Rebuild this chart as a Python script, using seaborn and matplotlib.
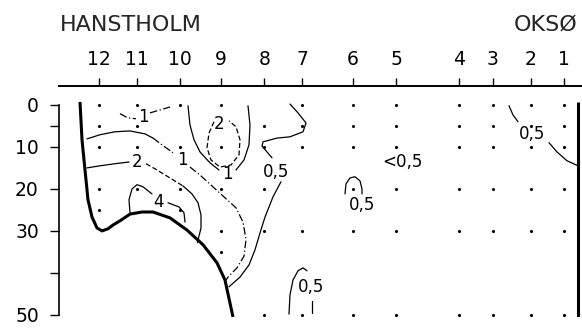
import matplotlib
matplotlib.use("Agg")
import matplotlib.pyplot as plt
import seaborn as sns
import pandas as pd

# stations along the section, distance in km from Hanstholm
stations = ["12", "11", "10", "9", "8", "7", "6", "5", "4", "3", "2", "1"]
station_km = [10.0, 19.5, 30.3, 40.5, 51.3, 60.8, 73.5, 84.3, 100.0, 108.5, 118.0, 126.3]
full_cast = [0, 5, 10, 20, 30, 50]
sample_depths = [
    [0, 5, 10, 20, 25],
    [0, 5, 10, 20],
    [0, 10, 20, 25],
    [0, 10, 20, 30, 35],
    [5, 10, 20, 30, 50],
    [0, 5, 10, 30, 50],
    full_cast, full_cast, full_cast, full_cast, full_cast, full_cast,
]

depth_ticks = [0, 5, 10, 20, 30, 40, 50]
depth_labels = ["0", "", "10", "20", "30", "", "50"]

# sea floor on the Hanstholm side and the coast at Oksø
bottom_km = [5.25, 5.75, 6.5, 7.25, 8.25, 9.5, 10.75, 12.25, 13.5, 15.25, 17.75, 20.75,
             23.5, 27.75, 32.0, 36.0, 39.5, 41.5, 43.5]
bottom_d = [-0.7, 8.3, 15.5, 22.6, 26.7, 29.3, 30.0, 29.5, 28.6, 27.6, 26.0, 25.5,
            25.5, 26.9, 29.8, 33.3, 37.6, 41.7, 50.5]
coast_km = [129.75, 129.75]
coast_d = [-0.7, 50.5]

# isolines (km, depth m)
iso1_top_a_km = [15.25, 17.25, 19.25]
iso1_top_a_d = [2.1, 3.1, 3.3]
iso1_top_b_km = [22.75, 25.25, 27.75]
iso1_top_b_d = [1.9, 1.2, 0.5]

iso1_left_km = [7.0, 10.25, 14.0, 17.75, 21.5, 23.5]
iso1_left_d = [8.1, 7.1, 6.4, 6.2, 6.9, 7.9]
iso1_mid_km = [23.5, 25.75, 28.5]
iso1_mid_d = [7.9, 9.5, 11.4]
iso1_low_km = [32.75, 35.25, 38.25, 41.25, 44.25, 46.0, 46.75, 46.25, 44.5, 42.25, 41.6]
iso1_low_d = [14.8, 16.7, 19.3, 21.9, 24.5, 27.9, 32.1, 36.0, 38.8, 41.0, 41.9]

iso1_u_a_km = [32.25, 32.75, 33.75, 35.25, 37.75, 40.0]
iso1_u_a_d = [0.2, 4.8, 8.3, 11.2, 13.8, 15.5]
iso1_u_b_km = [44.25, 46.25, 47.5, 47.75, 47.25]
iso1_u_b_d = [15.5, 13.1, 9.5, 4.8, 0.2]

iso2_ring_km = [38.75, 37.5, 37.0, 38.0, 40.25, 43.0, 45.0, 45.25, 44.25, 42.5]
iso2_ring_d = [4.0, 6.7, 10.2, 13.1, 14.8, 14.3, 11.9, 8.3, 5.2, 3.8]

iso2_left_km = [7.0, 10.25, 14.0, 17.5]
iso2_left_d = [15.0, 14.5, 14.0, 13.6]
iso2_mid_km = [21.75, 24.5, 27.75, 31.0]
iso2_mid_d = [14.0, 15.5, 17.4, 19.3]
iso2_low_km = [31.0, 33.25, 34.75, 35.5, 35.5, 34.6]
iso2_low_d = [19.3, 21.2, 23.3, 26.2, 29.3, 32.8]

iso4_a_km = [17.75, 17.5, 18.25, 19.5, 21.0, 23.25]
iso4_a_d = [25.7, 22.6, 20.0, 19.0, 19.5, 21.2]
iso4_b_km = [27.25, 30.0, 31.25, 31.5]
iso4_b_d = [23.3, 24.3, 25.7, 27.9]

iso05_a_km = [57.75, 59.75, 61.75, 61.0, 57.75, 54.5, 51.0, 50.75, 52.0, 53.25]
iso05_a_d = [-0.2, 1.9, 4.3, 6.4, 7.6, 7.9, 8.8, 9.8, 11.2, 12.6]
iso05_b_km = [55.5, 53.5, 51.5, 50.25, 49.0, 47.5, 45.25, 42.5]
iso05_b_d = [18.3, 21.9, 26.7, 30.5, 34.5, 38.1, 41.0, 43.3]

iso05_st6_km = [71.5, 71.75, 72.75, 74.0, 75.25, 75.75, 75.75]
iso05_st6_d = [21.2, 18.8, 17.4, 17.1, 18.1, 20.0, 21.2]

iso05_st7_km = [57.5, 57.75, 58.5, 59.75, 61.0, 62.0]
iso05_st7_d = [49.8, 45.2, 41.7, 39.5, 38.8, 39.5]
iso05_st7b_km = [63.25, 63.25]
iso05_st7b_d = [46.7, 49.5]

iso05_east_a_km = [112.5, 113.5, 114.75]
iso05_east_a_d = [0.2, 2.4, 4.0]
iso05_east_b_km = [122.5, 124.5, 127.0, 129.75]
iso05_east_b_d = [9.0, 11.2, 13.3, 14.5]

# isoline labels
label_text = ["1", "1", "1", "2", "2", "4", "0,5", "0,5", "0,5", "0,5", "<0,5"]
label_km = [21.0, 30.75, 42.0, 40.0, 19.5, 25.0, 54.25, 75.75, 62.9, 118.25, 85.75]
label_d = [2.9, 13.1, 16.4, 4.5, 13.6, 23.1, 16.0, 23.8, 43.3, 6.9, 13.6]

sns.set_theme(style="white")
plt.rcParams["font.family"] = ["DejaVu Sans"]

fig = plt.figure(figsize=(5.82, 3.29), dpi=100)
ax = fig.add_axes([59 / 582, 12 / 329, 523 / 582, 231 / 329])

casts = pd.DataFrame({
    "km": [k for k, ds in zip(station_km, sample_depths) for _ in ds],
    "depth": [d for ds in sample_depths for d in ds],
})
sns.scatterplot(data=casts, x="km", y="depth", ax=ax, s=5, color="black",
                linewidth=0, legend=False)

solid = dict(color="black", lw=0.9, ls="-")
dashdot = dict(color="black", lw=0.9, dashes=(6, 2, 1, 2))
dashed = dict(color="black", lw=0.9, dashes=(4, 2))

ax.plot(bottom_km, bottom_d, color="black", lw=2.2, solid_capstyle="butt")
ax.plot(coast_km, coast_d, color="black", lw=2.2, solid_capstyle="butt")

ax.plot(iso1_top_a_km, iso1_top_a_d, **dashdot)
ax.plot(iso1_top_b_km, iso1_top_b_d, **dashdot)
ax.plot(iso1_left_km, iso1_left_d, **solid)
ax.plot(iso1_mid_km, iso1_mid_d, **dashdot)
ax.plot(iso1_low_km, iso1_low_d, **dashdot)
ax.plot(iso1_u_a_km, iso1_u_a_d, **solid)
ax.plot(iso1_u_b_km, iso1_u_b_d, **solid)
ax.plot(iso2_ring_km, iso2_ring_d, **dashed)
ax.plot(iso2_left_km, iso2_left_d, **solid)
ax.plot(iso2_mid_km, iso2_mid_d, **dashed)
ax.plot(iso2_low_km, iso2_low_d, **solid)
ax.plot(iso4_a_km, iso4_a_d, **solid)
ax.plot(iso4_b_km, iso4_b_d, **solid)
ax.plot(iso05_a_km, iso05_a_d, **solid)
ax.plot(iso05_b_km, iso05_b_d, **solid)
ax.plot(iso05_st6_km, iso05_st6_d, **solid)
ax.plot(iso05_st7_km, iso05_st7_d, **solid)
ax.plot(iso05_st7b_km, iso05_st7b_d, **solid)
ax.plot(iso05_east_a_km, iso05_east_a_d, **solid)
ax.plot(iso05_east_b_km, iso05_east_b_d, **solid)

for t, k, d in zip(label_text, label_km, label_d):
    ax.text(k, d, t, ha="center", va="center", fontsize=12, color="black")

ax.set_xlim(0, 130.75)
ax.set_ylim(50.5, -4.5)

ax.xaxis.tick_top()
ax.set_xticks(station_km)
ax.set_xticklabels(stations)
ax.set_yticks(depth_ticks)
ax.set_yticklabels(depth_labels)
ax.tick_params(axis="x", top=True, bottom=False, direction="out", length=6,
               width=1, pad=6, labelsize=13.5, colors="black")
ax.tick_params(axis="y", left=True, direction="out", length=6.5, width=1,
               pad=8, labelsize=13.5, colors="black")
ax.set_xlabel("")
ax.set_ylabel("")

for side in ["right", "bottom"]:
    ax.spines[side].set_visible(False)
ax.spines["top"].set_color("black")
ax.spines["top"].set_linewidth(1.4)
ax.spines["left"].set_color("black")
ax.spines["left"].set_linewidth(1.2)
ax.spines["left"].set_bounds(0, 50)

fig.text(60 / 582, 1 - 25 / 329, "HANSTHOLM", ha="left", va="center", fontsize=16)
fig.text(514 / 582, 1 - 25 / 329, "OKSØ", ha="left", va="center", fontsize=16)

fig.savefig("out.png", dpi=100)
